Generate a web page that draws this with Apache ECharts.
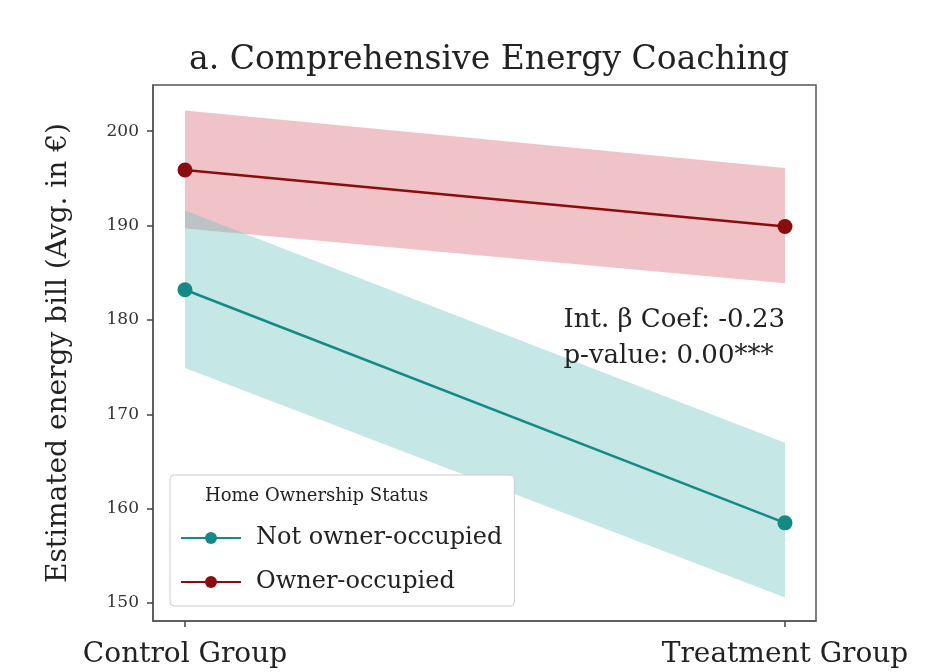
<!DOCTYPE html>
<html><head><meta charset="utf-8">
<script src="https://cdn.jsdelivr.net/npm/echarts@6/dist/echarts.min.js"></script>
<style>html,body{margin:0;padding:0;background:#fff}#c{width:929px;height:672px}</style>
</head><body><div id="c"></div>
<script>
const categories = ['Control Group', 'Treatment Group'];
const notOwnerMean = [183.2, 158.5];
const notOwnerLow = [174.9, 150.6];
const notOwnerHigh = [191.6, 167.0];
const ownerMean = [195.9, 189.9];
const ownerLow = [189.7, 183.9];
const ownerHigh = [202.2, 196.1];
const yTicks = [150, 160, 170, 180, 190, 200];
const seriesNames = ['Not owner-occupied', 'Owner-occupied'];

const FONT = 'DejaVu Serif';
const teal = '#148a86';
const red = '#8b0c0c';

function band(lo, hi, color) {
  return {
    type: 'custom',
    silent: true,
    data: [[0, lo[0], hi[0], 1, lo[1], hi[1]]],
    encode: { x: [0, 3], y: [1, 2, 4, 5] },
    renderItem: function (params, api) {
      const p1 = api.coord([api.value(0), api.value(1)]);
      const p2 = api.coord([api.value(0), api.value(2)]);
      const p3 = api.coord([api.value(3), api.value(5)]);
      const p4 = api.coord([api.value(3), api.value(4)]);
      return { type: 'polygon', shape: { points: [p1, p2, p3, p4] }, style: { fill: color } };
    },
    z: 1
  };
}
function line(name, vals, color) {
  return {
    name: name, type: 'line',
    data: vals.map((v, i) => [i, v]),
    symbol: 'circle', symbolSize: 15,
    lineStyle: { color: color, width: 2.5 },
    itemStyle: { color: color },
    z: 3
  };
}

const chart = echarts.init(document.getElementById('c'));
chart.setOption({
  backgroundColor: '#fff',
  animation: false,
  title: {
    text: 'a. Comprehensive Energy Coaching',
    left: 484, top: 39, textAlign: 'center',
    textStyle: { fontFamily: FONT, fontSize: 33, fontWeight: 'normal', color: '#222' }
  },
  grid: { left: 153, right: 113, top: 85, bottom: 51, show: true, borderColor: '#555', borderWidth: 1.5, backgroundColor: 'transparent' },
  xAxis: {
    type: 'value', min: -0.0533, max: 1.0517,
    axisLine: { show: true, onZero: false, lineStyle: { color: '#555', width: 1.5 } },
    splitLine: { show: false },
    axisTick: { show: true, length: 6, customValues: [0, 1], lineStyle: { color: '#444', width: 1.5 } },
    axisLabel: {
      customValues: [0, 1], margin: 20,
      formatter: v => categories[Math.round(v)],
      fontFamily: FONT, fontSize: 28, color: '#222'
    }
  },
  yAxis: {
    type: 'value', min: 148.1, max: 204.9,
    name: 'Estimated energy bill (Avg. in €)', nameLocation: 'middle', nameGap: 80,
    nameTextStyle: { fontFamily: FONT, fontSize: 28, color: '#222' },
    axisLine: { show: true, onZero: false, lineStyle: { color: '#555', width: 1.5 } },
    splitLine: { show: false },
    axisTick: { show: true, length: 6, customValues: yTicks, lineStyle: { color: '#444', width: 1.5 } },
    axisLabel: { customValues: yTicks, fontFamily: FONT, fontSize: 17, color: '#333', margin: 14 }
  },
  legend: {
    data: seriesNames,
    orient: 'vertical', left: 170, top: 475,
    padding: [51, 12, 12, 10], itemGap: 20,
    itemWidth: 60, itemHeight: 15,
    backgroundColor: '#fff', borderColor: '#ccc', borderWidth: 1, borderRadius: 4,
    textStyle: { fontFamily: FONT, fontSize: 24, color: '#222', padding: [0, 0, 0, 10] }
  },
  graphic: [
    { type: 'text', left: 205, top: 487, z: 100,
      style: { text: 'Home Ownership Status', font: '18px "DejaVu Serif"', fill: '#222' } },
    { type: 'text', right: 144, top: 302, z: 100,
      style: { text: 'Int. β Coef: -0.23\np-value: 0.00***', font: '26px "DejaVu Serif"', fill: '#222', lineHeight: 36, align: 'left' } }
  ],
  series: [
    band(ownerLow, ownerHigh, 'rgba(210, 80, 95, 0.34)'),
    band(notOwnerLow, notOwnerHigh, 'rgba(110, 195, 190, 0.40)'),
    line(seriesNames[0], notOwnerMean, teal),
    line(seriesNames[1], ownerMean, red)
  ]
});
</script></body></html>
